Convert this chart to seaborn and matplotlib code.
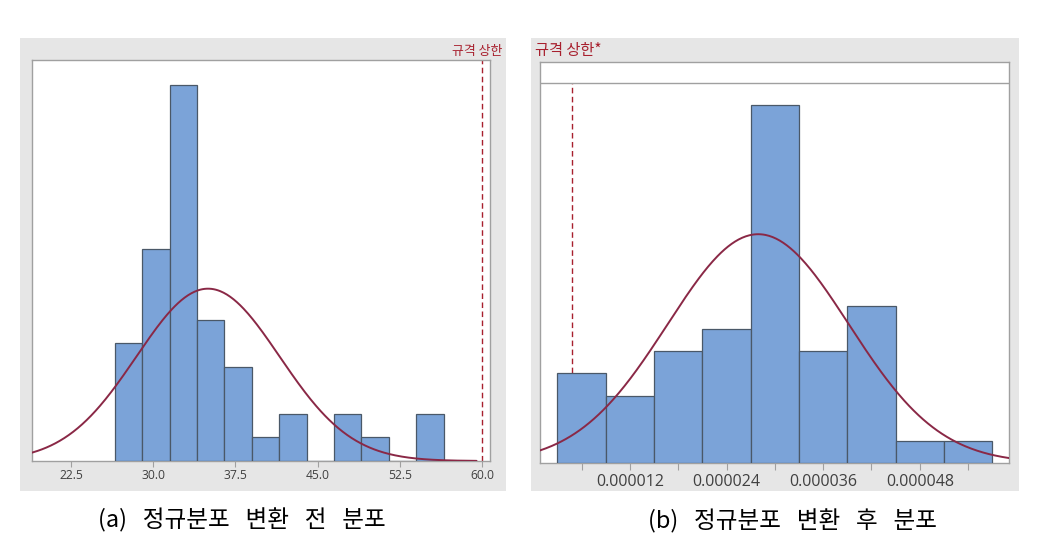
import numpy as np
import pandas as pd
import matplotlib
matplotlib.use("Agg")
import matplotlib.pyplot as plt
from matplotlib.patches import Rectangle
from matplotlib.ticker import FixedLocator, FixedFormatter
import seaborn as sns

# ---------------- data ----------------
# (a) before transformation
a_bin_edges = [26.5, 29.0, 31.5, 34.0, 36.5, 39.0, 41.5, 44.0, 46.5, 49.0, 51.5, 54.0, 56.5]
a_counts = [5, 9, 16, 6, 4, 1, 2, 0, 2, 1, 0, 2]
a_fit_mean = 35.0
a_fit_sd = 6.53
a_usl = 60.0
a_ticks = [22.5, 30.0, 37.5, 45.0, 52.5, 60.0]
a_ticklabels = ["22.5", "30.0", "37.5", "45.0", "52.5", "60.0"]

# (b) after transformation
b_bin_edges = [3e-6, 9e-6, 15e-6, 21e-6, 27e-6, 33e-6, 39e-6, 45e-6, 51e-6, 57e-6]
b_counts = [4, 3, 5, 6, 16, 5, 7, 1, 1]
b_fit_mean = 27.93e-6
b_fit_sd = 11.25e-6
b_usl = 4.75e-6
b_ticks = [6e-6, 12e-6, 18e-6, 24e-6, 30e-6, 36e-6, 42e-6, 48e-6, 54e-6]
b_ticklabels = ["", "0.000012", "", "0.000024", "", "0.000036", "", "0.000048", ""]

usl_label_a = "규격 상한"
usl_label_b = "규격 상한*"
caption_a = "(a)   정규분포   변환   전   분포"
caption_b = "(b)   정규분포   변환   후   분포"

# ---------------- style ----------------
sns.set_style("white")
plt.rcParams['font.family'] = ['Open Sans', 'Noto Sans CJK KR', 'DejaVu Sans']

BAR = "#7BA3D8"
EDGE = "#4A5868"
CURVE = "#8A2846"
USL = "#A8202E"
BG = "#E6E6E6"
SPINE = "#A0A0A0"
TXT = "#404040"

W, H = 1042, 539
fig = plt.figure(figsize=(W / 100, H / 100), dpi=100)
fig.patch.set_facecolor("white")

def fx(px):
    return px / W

def fy(py):
    return 1 - py / H

# grey panel backgrounds
for x0, x1 in [(20, 506), (531, 1019)]:
    fig.patches.append(Rectangle((fx(x0), fy(491)), fx(x1) - fx(x0), fy(38) - fy(491),
                                 transform=fig.transFigure, facecolor=BG, edgecolor="none", zorder=-5))

ax1 = fig.add_axes([fx(32), fy(461), fx(490) - fx(32), fy(60) - fy(461)])
ax2 = fig.add_axes([fx(540), fy(463), fx(1009) - fx(540), fy(62) - fy(463)])
ax1.set_zorder(5)
ax2.set_zorder(5)


def draw_hist(ax, edges, counts, mean, sd, xlim, ylim, curve_xmax):
    edges = [float(e) for e in edges]
    centers = [(edges[i] + edges[i + 1]) / 2 for i in range(len(edges) - 1)]
    df = pd.DataFrame({"x": centers, "w": [float(c) for c in counts]})
    sns.histplot(data=df, x="x", weights="w", bins=edges, ax=ax, stat="count",
                 color=BAR, edgecolor=EDGE, linewidth=0.9, alpha=1.0, zorder=3)
    bw = edges[1] - edges[0]
    n = sum(counts)
    xs = np.linspace(xlim[0], curve_xmax, 400)
    ys = n * bw / (sd * np.sqrt(2 * np.pi)) * np.exp(-0.5 * ((xs - mean) / sd) ** 2)
    sns.lineplot(x=xs, y=ys, ax=ax, color=CURVE, linewidth=1.4, zorder=4)
    ax.set_xlim(*xlim)
    ax.set_ylim(*ylim)
    ax.set_xlabel("")
    ax.set_ylabel("")
    ax.set_yticks([])
    ax.set_facecolor("white")
    for s in ax.spines.values():
        s.set_color(SPINE)
        s.set_linewidth(1.0)
        s.set_visible(True)


# ----- panel (a) -----
draw_hist(ax1, a_bin_edges, a_counts, a_fit_mean, a_fit_sd,
          xlim=(18.94, 60.73), ylim=(0, 17.06), curve_xmax=59.5)
ax1.axvline(a_usl, color=USL, linestyle=(0, (4, 2.5)), linewidth=1.0, zorder=2)
ax1.xaxis.set_major_locator(FixedLocator(a_ticks))
ax1.xaxis.set_major_formatter(FixedFormatter(a_ticklabels))
ax1.tick_params(axis="x", bottom=True, length=4, width=0.8, color=SPINE,
                labelsize=8.7, labelcolor=TXT, pad=2)
fig.text(fx(502), fy(52), usl_label_a, ha="right", va="center", fontsize=9.3,
         color=USL, family=['Noto Sans CJK KR', 'DejaVu Sans'])

# ----- panel (b) -----
b_ylim_top = 17.9
header_y = 16.96
draw_hist(ax2, b_bin_edges, b_counts, b_fit_mean, b_fit_sd,
          xlim=(0.83e-6, 59.08e-6), ylim=(0, b_ylim_top), curve_xmax=59.08e-6)
ax2.axhline(header_y, color=SPINE, linewidth=1.0, zorder=5)
ax2.vlines(b_usl, 0, header_y, colors=USL, linestyles=[(0, (4, 2.5))], linewidth=1.0, zorder=2)
ax2.xaxis.set_major_locator(FixedLocator(b_ticks))
ax2.xaxis.set_major_formatter(FixedFormatter(b_ticklabels))
ax2.tick_params(axis="x", bottom=True, length=5, width=0.8, color=SPINE,
                labelsize=11.5, labelcolor=TXT, pad=3)
fig.text(fx(535), fy(51), usl_label_b, ha="left", va="center", fontsize=11,
         color=USL, family=['Noto Sans CJK KR', 'DejaVu Sans'])

# captions
fig.text(fx(242), fy(520), caption_a, ha="center", va="center", fontsize=17,
         color="black", family=['Noto Sans CJK KR', 'DejaVu Sans'])
fig.text(fx(792), fy(521), caption_b, ha="center", va="center", fontsize=17,
         color="black", family=['Noto Sans CJK KR', 'DejaVu Sans'])

fig.savefig("out.png", dpi=100)
